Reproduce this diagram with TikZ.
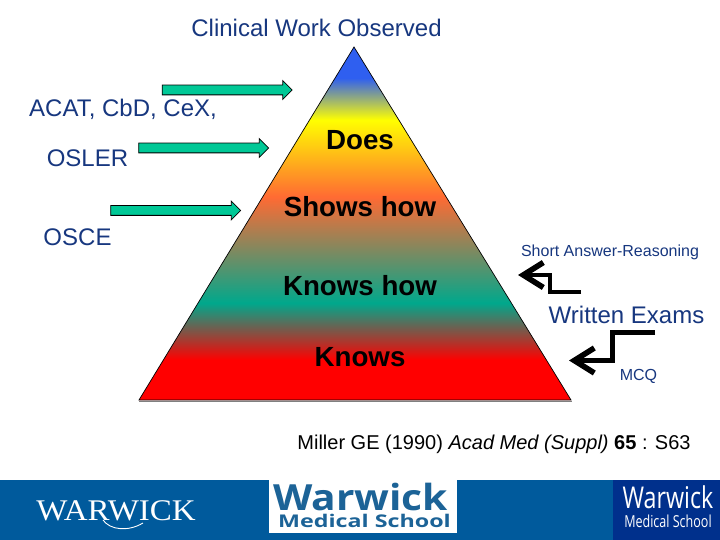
\documentclass[tikz,border=0pt]{standalone}
\usepackage{fontspec}
\setmainfont{Liberation Sans}
\newfontfamily\serifface{Liberation Serif}
\newfontfamily\logoface{Open Sans}
\usetikzlibrary{shapes.arrows,arrows.meta}
\definecolor{navy}{HTML}{17377F}
\definecolor{pblue}{HTML}{2F5FF0}
\definecolor{pyellow}{HTML}{FFFF00}
\definecolor{porange}{HTML}{FF6A33}
\definecolor{pteal}{HTML}{00A88C}
\definecolor{pred}{HTML}{FF0000}
\definecolor{band}{HTML}{005A9C}
\definecolor{bandr}{HTML}{00308C}
\definecolor{logoblue}{HTML}{1C6397}
\definecolor{arrowgreen}{HTML}{00C896}
\pgfdeclareverticalshading{pyrshade}{100bp}{
  color(0bp)=(pred); color(30.67bp)=(pred); color(38.74bp)=(pteal);
  color(53.75bp)=(porange); color(64.66bp)=(pyellow); color(70.61bp)=(pblue); color(100bp)=(pblue)}
\tikzset{
  x=1pt,y=-1pt,
  lab/.style={font=\fontsize{24}{28}\selectfont,text=navy,inner sep=0pt,anchor=base},
  smalllab/.style={font=\fontsize{16}{18}\selectfont,text=navy,inner sep=0pt,anchor=base},
  tier/.style={font=\bfseries\fontsize{27.7}{30}\selectfont,text=black,inner sep=0pt,anchor=base},
  greenarrow/.style={single arrow,draw=black,line width=0.8pt,fill=arrowgreen,minimum height=130pt,
    single arrow head extend=4.5pt,inner xsep=0pt,inner ysep=4.5pt,anchor=center},
  steparrow/.style={draw=black,line width=4.6pt,miter limit=10,-{Straight Barb[length=20pt,width=25pt,line width=5.6pt]}},
  logotext/.style={inner sep=0pt,anchor=base},
}
\begin{document}
\begin{tikzpicture}
\useasboundingbox (0,0) rectangle (720,540);
\fill[white] (0,0) rectangle (720,540);
% pyramid
\draw[gray,line width=1.5pt] (139,401.5) -- (572,401.5);
\path[shading=pyrshade,draw=black,line width=0.7pt] (354,47) -- (571,400) -- (139,400) -- cycle;
% tier labels
\node[tier] (does) at (360,150) {Does};
\node[tier] (shows) at (360,216.7) {Shows how};
\node[tier] (knowshow) at (360,295) {Knows how};
\node[tier] (knows) at (360,366.4) {Knows};
% left labels and arrows
\node[lab] (clin) at (316.5,36.8) {Clinical Work Observed};
\node[lab] (acat) at (123,116.7) {ACAT, CbD, CeX,};
\node[lab] (osler) at (87.5,166.7) {OSLER};
\node[lab] (osce) at (77.5,245.5) {OSCE};
\node[greenarrow] (g1) at (224.7,90) {};
\node[greenarrow] (g2) at (201.2,148) {};
\node[greenarrow] (g3) at (173.2,210.5) {};
% right labels and arrows
\node[smalllab] (short) at (610,256.5) {Short Answer-Reasoning};
\node[lab] (written) at (626.5,323.4) {Written Exams};
\node[smalllab] (mcq) at (638.5,380) {MCQ};
\coordinate (s0) at (581,292); \coordinate (s1) at (550,292); \coordinate (s2) at (550,275); \coordinate (s3) at (518,275);
\coordinate (m0) at (655,332.5); \coordinate (m1) at (612.5,332.5); \coordinate (m2) at (612.5,360.5); \coordinate (m3) at (569,360.5);
\draw[steparrow] (s0) -- (s1) -- (s2) -- (s3);
\draw[steparrow] (m0) -- (m1) -- (m2) -- (m3);
% citation
\node[inner sep=0pt,anchor=base,font=\fontsize{20}{22}\selectfont,text=black] (cite) at (494,449) {Miller GE (1990) \textit{Acad Med (Suppl)} \textbf{65} : S63};
% footer
\fill[band] (0,480) rectangle (720,540);
\fill[bandr] (612.5,480) rectangle (720,540);
\fill[white] (269,480) rectangle (457,532.7);
\node[logotext,text=white,font=\serifface\fontsize{30}{32}\selectfont,xscale=1.1] (w1) at (116,520) {WARWICK};
\coordinate (sw0) at (103,520); \coordinate (sw1) at (143,523);
\draw[white,line width=0.9pt] (sw0) .. controls (110,530) and (128,532) .. (sw1);
\node[logotext,text=logoblue,font=\logoface\bfseries\fontsize{36}{38}\selectfont,xscale=1.13] (w2) at (360.5,510) {Warwick};
\node[logotext,text=logoblue,font=\logoface\bfseries\fontsize{17.5}{19}\selectfont,xscale=1.33] (w3) at (364.5,527.5) {Medical School};
\node[logotext,text=white,font=\logoface\fontsize{30}{34}\selectfont,xscale=0.775] (w4) at (668,508.5) {Warwick};
\node[logotext,text=white,font=\logoface\fontsize{16.5}{18}\selectfont,xscale=0.76] (w5) at (668,527.5) {Medical School};
\end{tikzpicture}
\end{document}
